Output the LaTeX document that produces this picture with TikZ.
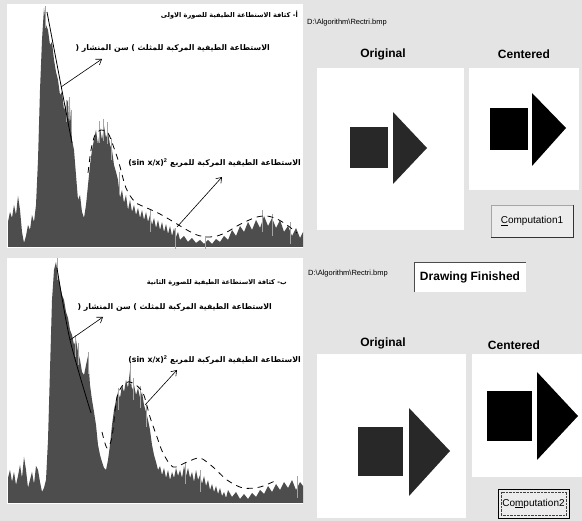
\documentclass[tikz,border=0pt]{standalone}
\usepackage{fontspec}
\setmainfont{Liberation Sans}
\newfontfamily\arabicfont[Script=Arabic]{DejaVu Sans}
\TeXXeTstate=1
\usepackage{tikz}
\usetikzlibrary{arrows.meta, positioning}

\definecolor{winbg}{RGB}{228,228,228}
\definecolor{histgray}{RGB}{77,77,77}
\definecolor{spikegray}{RGB}{165,165,165}
\definecolor{btnface}{RGB}{236,236,236}
\definecolor{origdark}{RGB}{40,40,40}

\begin{document}
\begin{tikzpicture}[
    x=1pt, y=-1pt,
    panel/.style={
        fill=white,
        anchor=north west,
        inner sep=0pt
    },
    hist/.style={
        fill=histgray
    },
    spike/.style={
        draw=spikegray,
        line width=0.7pt
    },
    envelope/.style={
        draw=black,
        line width=0.8pt
    },
    dashenv/.style={
        draw=black,
        line width=0.8pt,
        dash pattern=on 6pt off 5pt
    },
    pointer/.style={
        -{Straight Barb[length=5pt, width=7pt]},
        draw=black,
        line width=0.6pt
    },
    artitle/.style={
        font=\arabicfont\bfseries\fontsize{6.6}{8}\selectfont,
        inner sep=0pt,
        anchor=east
    },
    arlabel/.style={
        font=\arabicfont\bfseries\fontsize{7.8}{9}\selectfont,
        inner sep=0pt,
        anchor=east
    },
    filepath/.style={
        font=\fontsize{7.5}{9}\selectfont,
        inner sep=0pt,
        anchor=west
    },
    heading/.style={
        font=\bfseries\fontsize{12}{14}\selectfont,
        inner sep=0pt
    },
    winbutton/.style={
        draw=gray!70,
        fill=btnface,
        font=\fontsize{10}{12}\selectfont,
        inner sep=0pt
    }
]

% Background and bounding box
\useasboundingbox (0,0) rectangle (582,521);
\fill[winbg] (0,0) rectangle (582,521);

% Left panels
\node (plotA) [panel, minimum width=296pt, minimum height=244pt] at (7,4) {};
\node (plotB) [panel, minimum width=296pt, minimum height=246pt] at (7,258) {};

% Spectrum of the first image
\fill[hist] plot coordinates {(8,247) (8,222) (10,212) (12,218) (14,205) (16,215) (18,196) (20,210)
    (22,232) (24,243) (26,236) (28,225) (30,230) (32,215) (34,222) (36,205) (38,160) (40,90)
    (42,40) (44,8) (46,25) (48,30) (50,45) (52,42) (54,60) (56,72) (58,80) (60,95) (62,92)
    (64,110) (66,105) (68,100) (69,125) (70,108) (72,140) (74,150) (76,175) (78,200) (80,195)
    (82,212) (84,218) (86,205) (88,185) (90,165) (92,150) (94,140) (96,130) (98,145) (100,128)
    (102,140) (104,126) (106,138) (108,132) (110,145) (112,150) (114,165) (116,172) (118,180)
    (120,198) (122,190) (124,203) (126,195) (128,210) (130,200) (132,212) (134,205) (136,215)
    (138,208) (140,218) (142,210) (144,220) (146,212) (148,222) (150,215) (152,225) (154,218)
    (156,228) (158,220) (160,230) (162,222) (164,232) (166,224) (168,234) (170,226) (172,236)
    (174,228) (176,237) (178,232) (180,240) (184,236) (188,242) (192,238) (196,243) (200,240)
    (204,244) (208,240) (212,244) (216,239) (220,242) (224,236) (228,240) (232,230) (236,236)
    (240,226) (244,232) (248,222) (252,230) (256,220) (260,228) (264,216) (268,226) (272,218)
    (276,228) (280,220) (284,232) (288,226) (292,236) (296,228) (300,238) (303,232) (303,247)} -- cycle;
\begin{scope}
    \clip (plotA.north west) rectangle (plotA.south east);
    \foreach \x/\y in {45/6, 66/100, 69/97, 71/110, 99/121, 103/119, 107/122, 111/138, 119/172,
        150/210, 175/228, 205/236, 262/210, 272/214, 290/222}
        \draw[spike] (\x,\y) -- ++(0,22);
\end{scope}

% Spectrum of the second image
\fill[hist] plot coordinates {(8,503) (8,478) (10,470) (12,482) (14,472) (16,485) (18,476) (20,465)
    (22,478) (24,457) (26,470) (28,488) (30,480) (32,472) (34,484) (36,466) (38,470) (40,482)
    (42,492) (44,488) (46,480) (48,440) (50,370) (52,300) (54,270) (56,262) (58,275) (60,285)
    (62,295) (64,300) (66,312) (68,318) (70,330) (72,335) (74,345) (76,340) (78,352) (80,360)
    (82,372) (84,375) (86,365) (88,356) (90,385) (92,400) (94,412) (96,425) (98,445) (100,455)
    (102,462) (104,468) (106,470) (108,460) (110,445) (112,425) (114,410) (116,400) (118,392)
    (120,398) (122,385) (124,392) (126,380) (128,388) (130,370) (132,390) (134,385) (136,395)
    (138,388) (140,398) (142,392) (144,405) (146,412) (148,420) (150,430) (152,445) (154,455)
    (156,462) (158,470) (160,466) (162,475) (164,468) (166,478) (168,470) (170,480) (172,472)
    (174,478) (176,468) (178,476) (180,470) (182,478) (184,466) (186,476) (188,468) (190,478)
    (192,472) (194,482) (196,470) (198,480) (200,475) (202,484) (204,476) (206,486) (208,480)
    (210,490) (212,484) (214,492) (216,486) (218,494) (220,488) (222,496) (224,492) (226,498)
    (228,490) (232,497) (236,492) (240,499) (244,494) (248,499) (252,493) (256,497) (260,490)
    (264,494) (268,486) (272,492) (276,484) (280,490) (284,482) (288,488) (292,480) (296,490)
    (300,482) (303,486) (303,503)} -- cycle;
\begin{scope}
    \clip (plotB.north west) rectangle (plotB.south east);
    \foreach \x/\y in {57/258, 75/335, 78/343, 88/352, 118/388, 130/362, 133/378, 140/386,
        146/405, 185/462, 200/470, 297/476}
        \draw[spike] (\x,\y) -- ++(0,22);
\end{scope}

% Envelopes
\draw[envelope] (47,12) -- (72,143);
\draw[dashenv] plot[smooth] coordinates {(88,173) (91,150) (95,135) (101,130) (108,133) (114,148)
    (119,163) (126,188) (135,202) (147,208) (158,213) (167,218) (177,224) (187,230) (197,235)
    (207,237) (217,236) (227,232) (237,226) (247,221) (257,217) (267,216) (277,219) (287,225) (297,233)};
\draw[envelope] plot[smooth] coordinates {(57,268) (70,340) (91,413)};
\draw[dashenv] plot[smooth] coordinates {(102,432) (107,448) (112,437) (117,397) (125,383) (133,383)
    (143,393) (150,417) (157,437) (163,453) (173,467) (187,462) (200,458) (213,467) (227,480)
    (243,488) (260,487) (277,480)};

% Labels of the first spectrum
\node (titleA) [artitle] at (298,15) {\beginR أ- كثافة الاستطاعة الطيفية للصورة الاولى\endR};
\node (sawA) [arlabel] at (270,48) {\beginR الاستطاعة الطيفية المركبة للمثلث ) سن المنشار (\endR};
\node (sincA) [arlabel] at (301,163) {\beginR الاستطاعة الطيفية المركبة للمربع \beginL(sin x/x)$^{\mathbf{2}}$\endL\endR};
\coordinate (sawAtail) at (61,87);
\coordinate (sawAhead) at (102,59);
\coordinate (sincAtail) at (177,227);
\coordinate (sincAhead) at (222,177);
\draw[pointer] (sawAtail) -- (sawAhead);
\draw[pointer] (sincAtail) -- (sincAhead);

% Labels of the second spectrum
\node (titleB) [artitle] at (287,283) {\beginR ب- كثافة الاستطاعة الطيفية للصورة الثانية\endR};
\node (sawB) [arlabel] at (272,307) {\beginR الاستطاعة الطيفية المركبة للمثلث ) سن المنشار (\endR};
\node (sincB) [arlabel] at (301,360) {\beginR الاستطاعة الطيفية المركبة للمربع \beginL(sin x/x)$^{\mathbf{2}}$\endL\endR};
\coordinate (sawBtail) at (70,340);
\coordinate (sawBhead) at (103,317);
\coordinate (sincBtail) at (145,405);
\coordinate (sincBhead) at (177,370);
\draw[pointer] (sawBtail) -- (sawBhead);
\draw[pointer] (sincBtail) -- (sincBhead);

% First image: original and centered
\node (pathA) [filepath] at (307,23) {D:\textbackslash Algorithm\textbackslash Rectri.bmp};
\node (origA) [heading] at (383,54) {Original};
\node (centA) [heading] at (524,54) {Centered};
\node (origAbox) [panel, minimum width=147pt, minimum height=162pt] at (317,68) {};
\node (centAbox) [panel, minimum width=110pt, minimum height=122pt] at (469,68) {};
\fill[origdark] (350,127) rectangle (388,168);
\fill[origdark] (393,112) -- (427,148) -- (393,184) -- cycle;
\fill[black] (490,108) rectangle (528,150);
\fill[black] (532,93) -- (566,128) -- (532,166) -- cycle;
\node (btnA) [winbutton, minimum width=82pt, minimum height=32pt] at (532,221) {\underline{C}omputation1};
\draw[gray!40!black] (btnA.south west) -| (btnA.north east);

% Second image: original and centered
\node (pathB) [filepath] at (308,274) {D:\textbackslash Algorithm\textbackslash Rectri.bmp};
\node (status) [fill=white, minimum width=111pt, minimum height=30pt, inner sep=0pt,
    font=\bfseries\fontsize{12}{14}\selectfont] at (470,277) {Drawing Finished};
\draw[gray!60!black] (status.south west) |- (status.north east);
\node (origB) [heading] at (383,343) {Original};
\node (centB) [heading] at (514,345) {Centered};
\node (origBbox) [panel, minimum width=149pt, minimum height=164pt] at (317,354) {};
\node (centBbox) [panel, minimum width=110pt, minimum height=123pt] at (472,354) {};
\fill[origdark] (358,427) rectangle (403,476);
\fill[origdark] (409,408) -- (450,451) -- (409,496) -- cycle;
\fill[black] (487,391) rectangle (532,441);
\fill[black] (537,372) -- (578,416) -- (537,460) -- cycle;
\node (btnB) [winbutton, draw=black, minimum width=71pt, minimum height=29pt] at (533.5,503.5) {Co\underline{m}putation2};
\draw[densely dotted, gray!50!black] ([shift={(3,3)}]btnB.north west) rectangle ([shift={(-3,-3)}]btnB.south east);

\end{tikzpicture}
\end{document}
